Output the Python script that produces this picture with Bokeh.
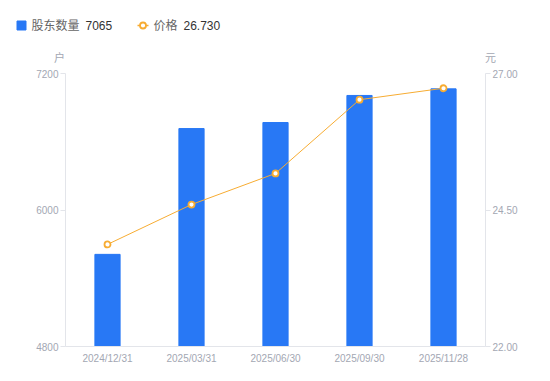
from bokeh.plotting import figure
from bokeh.layouts import column
from bokeh.models import (Range1d, LinearAxis, FixedTicker, NumeralTickFormatter, ColumnDataSource)
from bokeh.core.properties import value
from bokeh.embed import file_html
from bokeh.resources import INLINE

dates = ["2024/12/31", "2025/03/31", "2025/06/30", "2025/09/30", "2025/11/28"]
holders = [5610, 6716, 6769, 7007, 7065]
prices = [23.87, 24.60, 25.17, 26.52, 26.73]
left_ticks = [4800, 6000, 7200]
right_ticks = [22.0, 24.5, 27.0]
series_names = ["股东数量", "价格"]
units = ["户", "元"]

FONT = "Liberation Sans, Noto Sans CJK SC"
BLUE = "#2878F5"
ORANGE = "#F7AC32"
TICK = "#A3A7B3"
AXIS = "#E3E5EA"

W = 550
TOP_H = 65
MAIN_H = 315

# ---------- header (legend + unit labels) ----------
head = figure(width=W, height=TOP_H, x_range=Range1d(0, W), y_range=Range1d(TOP_H, 0),
              output_backend="svg", toolbar_location=None,
              min_border=0, min_border_left=0, min_border_right=0,
              min_border_top=0, min_border_bottom=0)
head.frame_align = False
head.axis.visible = False
head.grid.visible = False
head.outline_line_color = None

head.rect(x=[21], y=[25], width=9, height=9, fill_color=BLUE, line_color=BLUE)
head.line(x=[137, 148], y=[25, 25], line_color=ORANGE, line_width=1.5)
head.scatter(x=[142.5], y=[25], marker="circle", size=6, line_color=ORANGE,
             fill_color="white", line_width=1.8)
head.text(x=[31, 153], y=[25, 25], text=series_names, text_font=value(FONT),
          text_font_size="12px", text_color="#666666", text_baseline="middle")
head.text(x=[85, 183], y=[25, 25], text=[str(holders[-1]), f"{prices[-1]:.3f}"],
          text_font=value(FONT), text_font_size="12px", text_color="#333333",
          text_baseline="middle")
head.text(x=[59, 490], y=[57, 57], text=units, text_font=value(FONT),
          text_font_size="11px", text_color=TICK, text_baseline="middle", text_align="center")

# ---------- main chart ----------
src = ColumnDataSource(dict(d=dates, h=holders, p=prices))

p = figure(width=W, height=MAIN_H, x_range=dates, y_range=Range1d(4800, 7200),
           output_backend="svg", toolbar_location=None,
           min_border_left=65, min_border_right=65, min_border_top=8, min_border_bottom=34)
p.frame_align = False
p.outline_line_color = None
p.xgrid.grid_line_color = None
p.ygrid.grid_line_color = None
p.x_range.range_padding = 0
p.extra_y_ranges = {"price": Range1d(22, 27)}

p.vbar(x="d", top="h", bottom=4800, width=0.3, source=src,
       fill_color=BLUE, line_color=BLUE)
p.line(x="d", y="p", source=src, y_range_name="price", line_color=ORANGE, line_width=1)
p.scatter(x="d", y="p", source=src, y_range_name="price", marker="circle", size=6,
          line_color=ORANGE, fill_color="white", line_width=1.8)

def style_axis(ax):
    ax.axis_line_color = AXIS
    ax.major_tick_line_color = AXIS
    ax.minor_tick_line_color = None
    ax.major_tick_in = 0
    ax.major_tick_out = 5
    ax.major_label_text_color = TICK
    ax.major_label_text_font_size = "10px"
    ax.major_label_text_font = FONT
    ax.major_label_standoff = 2

yl = p.yaxis[0]
yl.ticker = FixedTicker(ticks=left_ticks)
style_axis(yl)

yr = LinearAxis(y_range_name="price", ticker=FixedTicker(ticks=right_ticks),
                formatter=NumeralTickFormatter(format="0.00"))
style_axis(yr)
p.add_layout(yr, "right")

xa = p.xaxis[0]
style_axis(xa)
xa.major_tick_line_color = None
xa.major_tick_out = 0
xa.major_label_standoff = 6

layout = column(head, p, spacing=0)
open("out.html", "w").write(file_html(layout, INLINE))
